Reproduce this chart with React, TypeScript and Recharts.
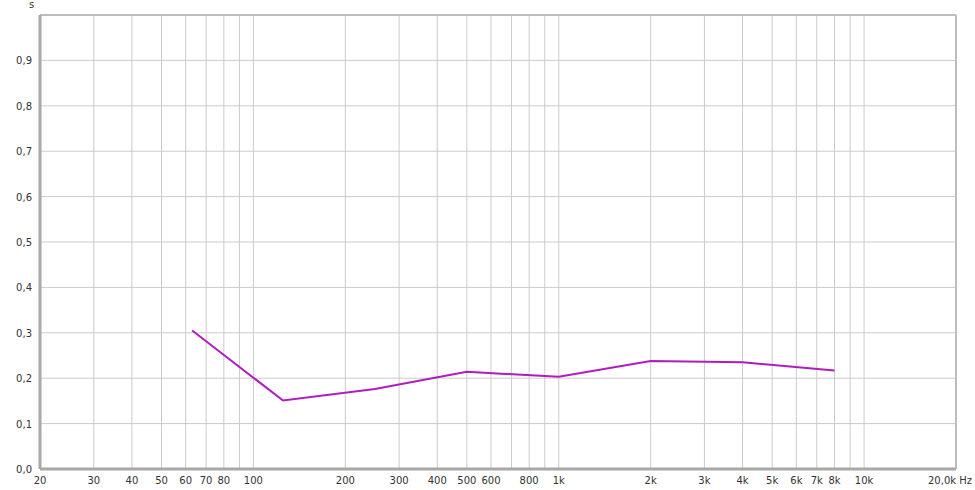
import React from "react";
import {
  LineChart,
  Line,
  XAxis,
  YAxis,
  CartesianGrid,
  ReferenceLine,
} from "recharts";

// octave band centres (Hz) and decay time (s)
const freqs = [63, 125, 250, 500, 1000, 2000, 4000, 8000];
const seconds = [0.305, 0.151, 0.176, 0.214, 0.203, 0.238, 0.235, 0.217];

const xTicks = [
  20, 30, 40, 50, 60, 70, 80, 90, 100, 200, 300, 400, 500, 600, 700, 800, 900,
  1000, 2000, 3000, 4000, 5000, 6000, 7000, 8000, 9000, 10000, 20000,
];
const xLabels = [
  "20", "30", "40", "50", "60", "70", "80", "", "100", "200", "300", "400", "500", "600", "", "800", "",
  "1k", "2k", "3k", "4k", "5k", "6k", "7k", "8k", "", "10k", "20,0k Hz",
];
const yTicks = [0, 0.1, 0.2, 0.3, 0.4, 0.5, 0.6, 0.7, 0.8, 0.9, 1.0];
const yLabels = ["0,0", "0,1", "0,2", "0,3", "0,4", "0,5", "0,6", "0,7", "0,8", "0,9", ""];

const data = freqs.map((f, i) => ({ f, s: seconds[i] }));

const FONT = "'DejaVu Sans', Verdana, sans-serif";

function XTick(props: any) {
  const { x, y, payload } = props;
  const idx = xTicks.indexOf(payload.value);
  const label = xLabels[idx] ?? "";
  const last = idx === xTicks.length - 1;
  return (
    <text
      x={last ? x + 16 : x}
      y={y + 7}
      textAnchor={last ? "end" : "middle"}
      fontSize={10}
      fontFamily={FONT}
      fill="#333"
    >
      {label}
    </text>
  );
}

function YTick(props: any) {
  const { x, y, payload } = props;
  const idx = yTicks.findIndex((t) => Math.abs(t - payload.value) < 1e-6);
  return (
    <text x={x} y={y + 4} textAnchor="end" fontSize={10} fontFamily={FONT} fill="#333">
      {yLabels[idx] ?? ""}
    </text>
  );
}

export default function App() {
  return (
    <div style={{ position: "absolute", left: 0, top: 0, width: 975, height: 490, background: "#fff" }}>
      <LineChart
        width={975}
        height={490}
        data={data}
        margin={{ top: 15, right: 19, left: 0, bottom: 0 }}
      >
        <CartesianGrid stroke="#cbcbcb" strokeWidth={1} />
        <XAxis
          dataKey="f"
          type="number"
          scale="log"
          domain={[20, 20000]}
          ticks={xTicks}
          interval={0}
          tick={<XTick />}
          tickLine={false}
          height={21}
          axisLine={{ stroke: "#a8a8a8", strokeWidth: 3 }}
          allowDataOverflow
        />
        <YAxis
          type="number"
          domain={[0, 1]}
          ticks={yTicks}
          interval={0}
          tick={<YTick />}
          tickLine={false}
          width={40}
          axisLine={{ stroke: "#a8a8a8", strokeWidth: 3 }}
        />
        <ReferenceLine y={1} stroke="#bdbdbd" strokeWidth={2} />
        <ReferenceLine x={20000} stroke="#bdbdbd" strokeWidth={2} />
        <Line
          type="linear"
          dataKey="s"
          stroke="#b01cc0"
          strokeWidth={2}
          dot={false}
          isAnimationActive={false}
        />
      </LineChart>
      <div
        style={{
          position: "absolute",
          left: 29,
          top: -1,
          fontSize: 10,
          fontFamily: FONT,
          color: "#333",
        }}
      >
        s
      </div>
    </div>
  );
}
